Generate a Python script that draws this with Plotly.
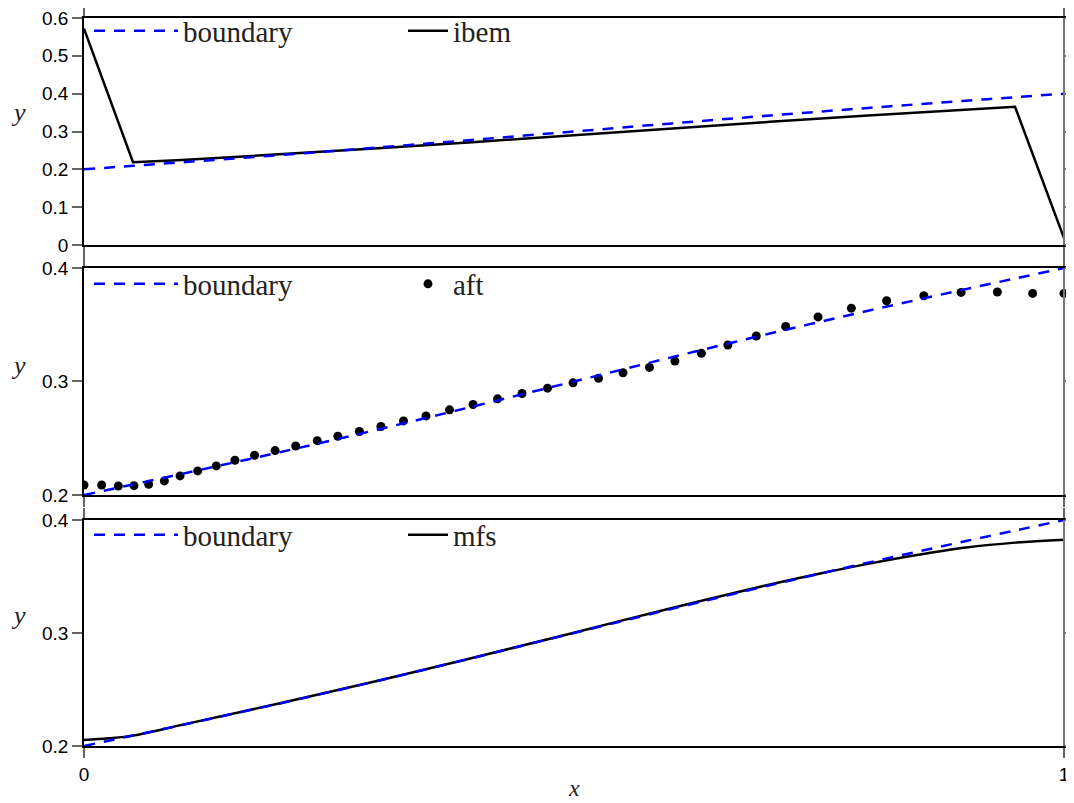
import plotly.graph_objects as go

# ---------------- data ----------------
x_boundary = [0.0, 0.05, 0.1, 0.15, 0.2, 0.25, 0.3, 0.35, 0.4, 0.45, 0.5,
              0.55, 0.6, 0.65, 0.7, 0.75, 0.8, 0.85, 0.9, 0.95, 1.0]
y_boundary = [0.2000, 0.2093, 0.2186, 0.2281, 0.2377, 0.2476, 0.2577, 0.2681,
              0.2786, 0.2893, 0.3000, 0.3107, 0.3214, 0.3319, 0.3423, 0.3524,
              0.3623, 0.3719, 0.3814, 0.3907, 0.4000]

x_ibem = [0.0, 0.05, 0.1, 0.2, 0.3, 0.4, 0.5, 0.6, 0.7, 0.8, 0.9, 0.95, 1.0]
y_ibem = [0.572, 0.219, 0.2245, 0.2395, 0.2555, 0.2725, 0.2905, 0.308,
          0.3255, 0.342, 0.357, 0.3655, 0.018]

x_aft = [0.000, 0.018, 0.035, 0.051, 0.066, 0.082, 0.098, 0.116, 0.135, 0.154,
         0.174, 0.195, 0.216, 0.238, 0.259, 0.281, 0.303, 0.326, 0.349, 0.373,
         0.397, 0.422, 0.447, 0.473, 0.499, 0.525, 0.550, 0.577, 0.603, 0.630,
         0.657, 0.686, 0.716, 0.749, 0.783, 0.819, 0.857, 0.895, 0.932, 0.968,
         1.000]
y_aft = [0.2088, 0.2088, 0.2079, 0.2082, 0.2094, 0.2124, 0.2168, 0.2212, 0.2256,
         0.2306, 0.2350, 0.2391, 0.2432, 0.2479, 0.2518, 0.2559, 0.2603, 0.2653,
         0.2697, 0.2750, 0.2797, 0.2847, 0.2894, 0.2941, 0.2988, 0.3029, 0.3077,
         0.3124, 0.3180, 0.3248, 0.3322, 0.3401, 0.3484, 0.3569, 0.3646, 0.3711,
         0.3755, 0.3785, 0.3788, 0.3776, 0.3776]

x_mfs = [0.0, 0.025, 0.05, 0.1, 0.2, 0.3, 0.4, 0.5, 0.6, 0.7, 0.75, 0.8,
         0.85, 0.9, 0.95, 1.0]
y_mfs = [0.2053, 0.2068, 0.2092, 0.2187, 0.2378, 0.2577, 0.2787, 0.3003,
         0.3222, 0.3430, 0.3525, 0.3612, 0.3690, 0.3756, 0.3800, 0.3826]

x_ticks = [0, 1]
x_tick_labels = ["0", "1"]
y1_ticks = [0, 0.1, 0.2, 0.3, 0.4, 0.5, 0.6]
y1_tick_labels = ["0", "0.1", "0.2", "0.3", "0.4", "0.5", "0.6"]
y23_ticks = [0.2, 0.3, 0.4]
y23_tick_labels = ["0.2", "0.3", "0.4"]

# ---------------- styling ----------------
BLUE = "#0000ff"
DASH = "11px,9px"
SERIF = "Liberation Serif"
SANS = "Liberation Sans"
X_MAX = 1 + 10 / 980.0          # horizontal frame lines run slightly past x = 1
Y1_RANGE = [0, 0.6]
Y23_RANGE = [0.2, 0.4]

fig = go.Figure()

# panel 1
fig.add_trace(go.Scatter(x=x_ibem, y=y_ibem, mode="lines", name="ibem",
                         line=dict(color="black", width=2.5),
                         xaxis="x", yaxis="y", legend="legend4"))
fig.add_trace(go.Scatter(x=x_boundary, y=y_boundary, mode="lines", name="boundary",
                         line=dict(color=BLUE, width=2.5, dash=DASH, shape="spline"),
                         xaxis="x", yaxis="y4", legend="legend"))
# panel 2
fig.add_trace(go.Scatter(x=x_aft, y=y_aft, mode="markers", name="aft",
                         marker=dict(color="black", size=9),
                         xaxis="x2", yaxis="y2", legend="legend5"))
fig.add_trace(go.Scatter(x=x_boundary, y=y_boundary, mode="lines", name="boundary",
                         line=dict(color=BLUE, width=2.5, dash=DASH, shape="spline"),
                         xaxis="x2", yaxis="y5", legend="legend2"))
# panel 3
fig.add_trace(go.Scatter(x=x_mfs, y=y_mfs, mode="lines", name="mfs",
                         line=dict(color="black", width=2.5, shape="spline"),
                         xaxis="x3", yaxis="y3", legend="legend6"))
fig.add_trace(go.Scatter(x=x_boundary, y=y_boundary, mode="lines", name="boundary",
                         line=dict(color=BLUE, width=2.5, dash=DASH, shape="spline"),
                         xaxis="x3", yaxis="y6", legend="legend3"))

domains = [[0.6882, 1.0], [0.3448, 0.6566], [0.0, 0.3104]]
RIGHT_POS = 1 / X_MAX

def xax(anchor, labels):
    return dict(range=[0, X_MAX], domain=[0, 1], anchor=anchor, automargin=False,
                tickvals=x_ticks, ticktext=x_tick_labels,
                showticklabels=labels, ticks="outside", ticklen=10,
                tickcolor="#666666", tickwidth=1.5,
                showline=True, linecolor="black", linewidth=1.5,
                mirror="ticks", showgrid=False, zeroline=False,
                ticklabeloverflow="allow",
                tickfont=dict(family=SANS, size=19, color="black"))

def yax(anchor, dom, rng, tv, tt):
    return dict(range=rng, domain=dom, anchor=anchor, automargin=False,
                tickvals=tv, ticktext=tt, ticks="outside", ticklen=10,
                tickcolor="#666666", tickwidth=1.5,
                showline=True, linecolor="black", linewidth=1.5,
                mirror=False, showgrid=False, zeroline=False,
                ticklabeloverflow="allow",
                tickfont=dict(family=SANS, size=19, color="black"))

def yax_right(over, rng, tv):
    return dict(range=rng, overlaying=over, anchor="free", position=RIGHT_POS,
                side="right", automargin=False, tickvals=tv,
                showticklabels=False, ticks="outside", ticklen=10,
                tickcolor="#777777", tickwidth=1.5,
                showline=True, linecolor="#777777", linewidth=1.5,
                showgrid=False, zeroline=False)

leg_common = dict(orientation="h", bgcolor="rgba(0,0,0,0)", borderwidth=0,
                  xanchor="left", yanchor="middle",
                  font=dict(family=SERIF, size=29, color="#222222"))

# page body has an 8px margin; the figure is sized so that it fills the window
OFF = 8

def px_x(p):
    return (p - 84) / 990.0

def px_y(p):
    return (746 - p) / 728.0

fig.update_layout(
    width=1074 - OFF, height=803 - OFF,
    margin=dict(l=84 - OFF, r=0, t=18 - OFF, b=57, autoexpand=False),
    plot_bgcolor="white", paper_bgcolor="white",
    showlegend=True,
    xaxis=xax("y", False),
    xaxis2=xax("y2", False),
    xaxis3=xax("y3", True),
    yaxis=yax("x", domains[0], Y1_RANGE, y1_ticks, y1_tick_labels),
    yaxis2=yax("x2", domains[1], Y23_RANGE, y23_ticks, y23_tick_labels),
    yaxis3=yax("x3", domains[2], Y23_RANGE, y23_ticks, y23_tick_labels),
    yaxis4=yax_right("y", Y1_RANGE, y1_ticks),
    yaxis5=yax_right("y2", Y23_RANGE, y23_ticks),
    yaxis6=yax_right("y3", Y23_RANGE, y23_ticks),
    legend=dict(x=px_x(89), y=px_y(31), itemwidth=84, **leg_common),
    legend2=dict(x=px_x(89), y=px_y(284), itemwidth=84, **leg_common),
    legend3=dict(x=px_x(89), y=px_y(535), itemwidth=84, **leg_common),
    legend4=dict(x=px_x(403), y=px_y(31), itemwidth=40, **leg_common),
    legend5=dict(x=px_x(403), y=px_y(284), itemwidth=40, **leg_common),
    legend6=dict(x=px_x(403), y=px_y(535), itemwidth=40, **leg_common),
)

ylab_pos = [113, 365, 615]
for yp in ylab_pos:
    fig.add_annotation(text="<i>y</i>", xref="paper", yref="paper",
                       x=px_x(18), y=px_y(yp), xanchor="center", yanchor="middle",
                       showarrow=False, font=dict(family=SERIF, size=26, color="#222222"))
fig.add_annotation(text="<i>x</i>", xref="paper", yref="paper",
                   x=px_x(574), y=px_y(788), xanchor="center", yanchor="middle",
                   showarrow=False, font=dict(family=SERIF, size=24, color="#222222"))

fig.write_html("out.html")
